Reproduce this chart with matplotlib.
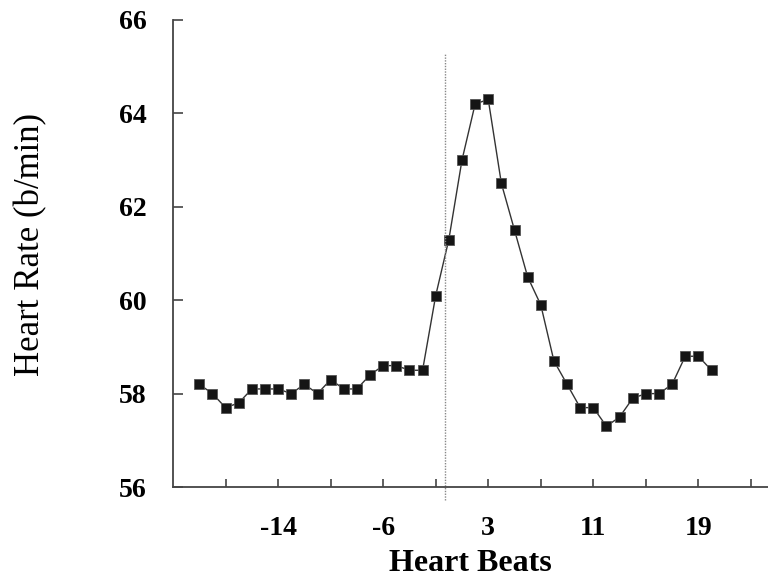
import numpy as np
import matplotlib
matplotlib.use("Agg")
import matplotlib.pyplot as plt

# beats relative to the event (there is no beat 0)
beats = [-20, -19, -18, -17, -16, -15, -14, -13, -12, -11,
         -10, -9, -8, -7, -6, -5, -4, -3, -2, -1,
         1, 2, 3, 4, 5, 6, 7, 8, 9, 10,
         11, 12, 13, 14, 15, 16, 17, 18, 19, 20]
heart_rate = [58.2, 58.0, 57.7, 57.8, 58.1, 58.1, 58.1, 58.0, 58.2, 58.0,
              58.3, 58.1, 58.1, 58.4, 58.6, 58.6, 58.5, 58.5, 60.1, 61.3,
              63.0, 64.2, 64.3, 62.5, 61.5, 60.5, 59.9, 58.7, 58.2, 57.7,
              57.7, 57.3, 57.5, 57.9, 58.0, 58.0, 58.2, 58.8, 58.8, 58.5]

tick_beats = [-18, -14, -10, -6, -2, 3, 7, 11, 15, 19, 23]
tick_labels = ["", "-14", "", "-6", "", "3", "", "11", "", "19", ""]
y_ticks = [56, 58, 60, 62, 64, 66]


def beat_pos(b):
    # close the gap left by the missing beat 0
    b = np.asarray(b)
    return np.where(b < 0, b, b - 1)


plt.rcParams['font.family'] = ['Liberation Serif', 'DejaVu Serif']

fig = plt.figure(figsize=(7.68, 5.78), dpi=100)
ax = fig.add_axes([0.2253, 0.1574, 0.7747, 0.808])

ax.plot(beat_pos(beats), heart_rate, color='#333333', lw=1.0,
        marker='s', markersize=7.5, markerfacecolor='#151515',
        markeredgecolor='#555555', markeredgewidth=0.6)

ax.axvline(-1.3, ymin=-0.028, ymax=0.929, color='#888888', lw=1.0,
           ls=(0, (1, 1)), clip_on=False)

ax.set_xlim(-22, 23.3)
ax.set_ylim(56, 66)
ax.set_xticks(beat_pos(tick_beats))
ax.set_xticklabels(tick_labels)
ax.set_yticks(y_ticks)

for side in ['top', 'right']:
    ax.spines[side].set_visible(False)
for side in ['left', 'bottom']:
    ax.spines[side].set_color('#444444')
    ax.spines[side].set_linewidth(1.3)

ax.tick_params(axis='x', direction='in', length=5.5, width=1.2,
               color='#444444', pad=21, labelsize=20)
ax.tick_params(axis='y', direction='in', length=7, width=1.2,
               color='#444444', pad=19, labelsize=20)
for lab in ax.get_xticklabels() + ax.get_yticklabels():
    lab.set_fontweight('bold')

ax.set_xlabel('Heart Beats', fontsize=23, fontweight='bold')
ax.xaxis.set_label_coords(0.5, -0.132)
ax.set_ylabel('Heart Rate (b/min)', fontsize=25)
ax.yaxis.set_label_coords(-0.212, 0.52)

fig.savefig('out.png', dpi=100)
